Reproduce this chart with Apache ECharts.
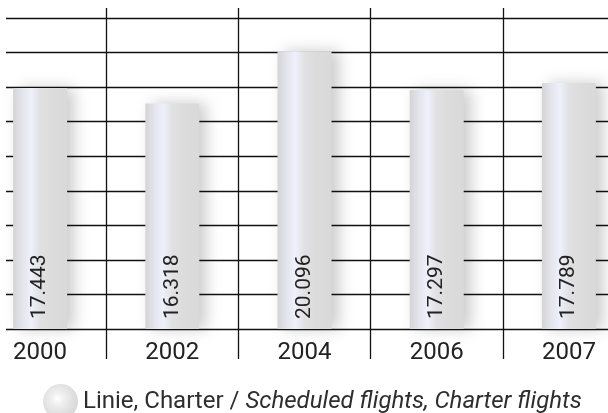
<!DOCTYPE html>
<html>
<head>
<meta charset="utf-8">
<script src="https://cdn.jsdelivr.net/npm/echarts@6/dist/echarts.min.js"></script>
<style>
html,body{margin:0;padding:0;background:#fff;}
#c{width:608px;height:413px;}
</style>
</head>
<body>
<div id="c"></div>
<script>
const categories = ['2000', '2002', '2004', '2006', '2007'];
const values = [17.443, 16.318, 20.096, 17.297, 17.789];
const seriesName = 'Linie, Charter / Scheduled flights, Charter flights';
const yMin = 0, yMax = 22.5, yInterval = 2.5;

const chart = echarts.init(document.getElementById('c'));
const lineStyle = { color: '#111', width: 1.3 };
const font = 'Roboto, "Liberation Sans", sans-serif';

chart.setOption({
  backgroundColor: '#fff',
  animation: false,
  textStyle: { fontFamily: font },
  grid: [
    { left: 6, right: 0, top: 18, bottom: 84, outerBoundsMode: 'none', containLabel: false },
    { left: -26, width: 661, top: 18, bottom: 84, outerBoundsMode: 'none', containLabel: false }
  ],
  xAxis: [
    { gridIndex: 0, type: 'value', show: false, min: 0, max: 1 },
    {
      gridIndex: 1, type: 'category', data: categories, position: 'bottom',
      axisLine: { show: false },
      axisTick: { show: true, length: 30, lineStyle: lineStyle },
      splitLine: { show: true, lineStyle: lineStyle },
      axisLabel: { fontSize: 24, color: '#222', margin: 12, fontFamily: font }
    },
    {
      gridIndex: 1, type: 'category', data: categories, position: 'top',
      axisLine: { show: false },
      axisTick: { show: true, length: 10, lineStyle: lineStyle },
      axisLabel: { show: false },
      splitLine: { show: false }
    }
  ],
  yAxis: [
    {
      gridIndex: 0, type: 'value', min: yMin, max: yMax, interval: yInterval,
      axisLine: { show: false }, axisTick: { show: false }, axisLabel: { show: false },
      splitLine: { show: true, lineStyle: lineStyle }
    },
    {
      gridIndex: 1, type: 'value', min: yMin, max: yMax, interval: yInterval,
      show: false, splitLine: { show: false }
    }
  ],
  legend: {
    top: 379, left: 38,
    icon: 'circle', itemWidth: 35, itemHeight: 35, itemGap: 4,
    data: [{
      name: seriesName,
      itemStyle: {
        color: {
          type: 'radial', x: 0.42, y: 0.42, r: 0.6,
          colorStops: [
            { offset: 0, color: '#ffffff' },
            { offset: 0.3, color: '#efefef' },
            { offset: 1, color: '#d7d7d7' }
          ]
        }
      }
    }],
    formatter: function () {
      return '{a|Linie, Charter / }{b|Scheduled flights, Charter flights}';
    },
    textStyle: {
      fontFamily: font,
      padding: [0, 0, 0, 0],
      rich: {
        a: { fontSize: 24, color: '#2e2e2e', fontFamily: font },
        b: { fontSize: 24, color: '#2e2e2e', fontStyle: 'italic', fontFamily: font }
      }
    }
  },
  series: [{
    name: seriesName,
    type: 'bar',
    xAxisIndex: 1, yAxisIndex: 1,
    data: values,
    barWidth: 54,
    itemStyle: {
      color: {
        type: 'linear', x: 0, y: 0, x2: 1, y2: 0,
        colorStops: [
          { offset: 0, color: '#d4d4d6' },
          { offset: 0.15, color: '#e2e3ea' },
          { offset: 0.33, color: '#eef0fb' },
          { offset: 0.5, color: '#e1e1e4' },
          { offset: 0.7, color: '#dcdcdc' },
          { offset: 1, color: '#d9d9d9' }
        ]
      },
      shadowColor: 'rgba(0,0,0,0.2)',
      shadowBlur: 14,
      shadowOffsetX: 7,
      shadowOffsetY: 0
    },
    label: {
      show: true,
      position: 'insideBottom',
      rotate: 90,
      align: 'left',
      verticalAlign: 'middle',
      distance: 10,
      fontSize: 21,
      color: '#222',
      fontFamily: font,
      formatter: function (p) { return p.value.toFixed(3); }
    }
  }]
});
</script>
</body>
</html>
